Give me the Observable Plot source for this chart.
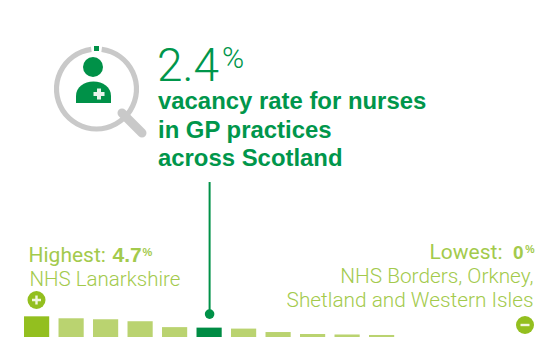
<!DOCTYPE html>
<html>
<head>
<meta charset="utf-8">
<script src="https://cdn.jsdelivr.net/npm/d3@7"></script>
<script src="https://cdn.jsdelivr.net/npm/@observablehq/plot@0.6"></script>
<style>
  html, body { margin: 0; padding: 0; background: #fff; overflow: hidden; }
  #chart { position: relative; width: 537px; height: 337px; }
  #chart > svg { position: absolute; left: 0; top: 0; display: block; }
</style>
</head>
<body>
<div id="chart"></div>
<script>
// Nurse vacancy rate by NHS board, ranked from highest to lowest, with the Scotland average in place
const ranks = [1, 2, 3, 4, 5, 6, 7, 8, 9, 10, 11, 12, 13, 14, 15];
const rates = [4.7, 4.3, 4.1, 3.7, 2.5, 2.4, 2.2, 1.5, 1.1, 1.0, 0.9, 0, 0, 0, 0];
const kinds = ["high", "mid", "mid", "mid", "mid", "scotland", "mid", "mid", "mid", "mid", "mid", "mid", "mid", "mid", "mid"];

const dark = "#009148";
const heading = "#00964b";
const light = "#a3ca4c";
const strong = "#93bf1f";
const barColours = { high: strong, mid: "#bad370", scotland: "#008c44" };
const bars = ranks.map((rank, i) => ({ rank, rate: rates[i], kind: kinds[i] }));
const scotland = bars.find(d => d.kind === "scotland");

// Places a line of annotation text by its baseline, measured from a corner of the frame
const label = (text, left, baseline, size, weight, fill, family = "Liberation Sans", anchor = "start") =>
  Plot.text([text], {
    frameAnchor: "top-left", dx: left, dy: baseline, lineAnchor: "bottom", textAnchor: anchor,
    fontSize: size, fontWeight: weight, fill, fontFamily: family
  });

const thin = "Roboto";

const plot = Plot.plot({
  width: 537, height: 337, margin: 0,
  style: { background: "transparent", overflow: "hidden" },
  x: { type: "band", domain: ranks, range: [14.7, 541.5], padding: 0.27, round: false, axis: null },
  y: { domain: [0, 339.4 / 4.91], range: [339.4, 0], axis: null },
  marks: [
    Plot.barY(bars, { x: "rank", y: "rate", fill: d => barColours[d.kind] }),
    Plot.ruleX([scotland], { x: "rank", y1: "rate", y2: 29.2, dy: -14, stroke: dark, strokeWidth: 2 }),
    Plot.dot([scotland], { x: "rank", y: "rate", dy: -14, r: 4.8, fill: dark }),

    label("2.4", 156.5, 80, 46, 300, heading, thin),
    label("%", 221.5, 67, 30, 300, heading, thin),
    label("vacancy rate for nurses", 157.5, 108, 23.9, 700, heading),
    label("in GP practices", 157.5, 137, 23.9, 700, heading),
    label("across Scotland", 157.5, 165.5, 23.9, 700, heading),

    label("Highest:", 28, 261, 21, 400, light, thin),
    label("4.7", 112, 261, 21, 700, light),
    label("%", 142, 255, 11, 700, light),
    label("NHS Lanarkshire", 29, 285, 20.5, 300, light, thin),

    label("Lowest:", 502, 258, 21, 400, light, thin, "end"),
    label("0", 523, 258, 19, 700, light, undefined, "end"),
    label("%", 534, 252, 10.5, 700, light, undefined, "end"),
    label("NHS Borders, Orkney,", 533, 282.5, 20.8, 300, light, thin, "end"),
    label("Shetland and Western Isles", 533, 306.5, 20.8, 300, light, thin, "end")
  ]
});

document.getElementById("chart").append(plot);

// Magnifier pictogram and the plus and minus badges, layered over the plot
const icons = d3.select("#chart").append("svg")
  .attr("width", 537).attr("height", 337)
  .style("pointer-events", "none");

const ringCentre = [96.5, 89], ringRadius = 40;
const ringArc = d3.arc()
  .innerRadius(ringRadius - 2.6).outerRadius(ringRadius + 2.6)
  .startAngle(0.13).endAngle(2 * Math.PI - 0.13);
icons.append("path").attr("d", ringArc())
  .attr("transform", `translate(${ringCentre})`).attr("fill", "#c9c9c9");
icons.append("rect").attr("x", 94).attr("y", 46).attr("width", 5).attr("height", 5).attr("fill", dark);
icons.append("line").attr("x1", 122).attr("y1", 113).attr("x2", 142).attr("y2", 133)
  .attr("stroke", "#c9c9c9").attr("stroke-width", 9).attr("stroke-linecap", "round");

icons.append("circle").attr("cx", 93).attr("cy", 67).attr("r", 10).attr("fill", dark);
icons.append("path").attr("d", "M76 103V96C76 87 84 81.5 93.5 81.5S111 87 111 96V103Z").attr("fill", dark);
icons.append("path").attr("d", "M99 88.500V99.500M93.500 94H104.500")
  .attr("stroke", "#e8f4ec").attr("stroke-width", 4);

const badge = (cx, cy, glyph) => {
  icons.append("circle").attr("cx", cx).attr("cy", cy).attr("r", 9).attr("fill", strong);
  icons.append("path").attr("d", glyph).attr("transform", `translate(${cx},${cy})`)
    .attr("stroke", "#f1f6df").attr("stroke-width", 2.4);
};
badge(36.5, 300, "M-4.500 0H4.500M0 -4.500V4.500");
badge(525, 325, "M-4.500 0H4.500");
</script>
</body>
</html>
